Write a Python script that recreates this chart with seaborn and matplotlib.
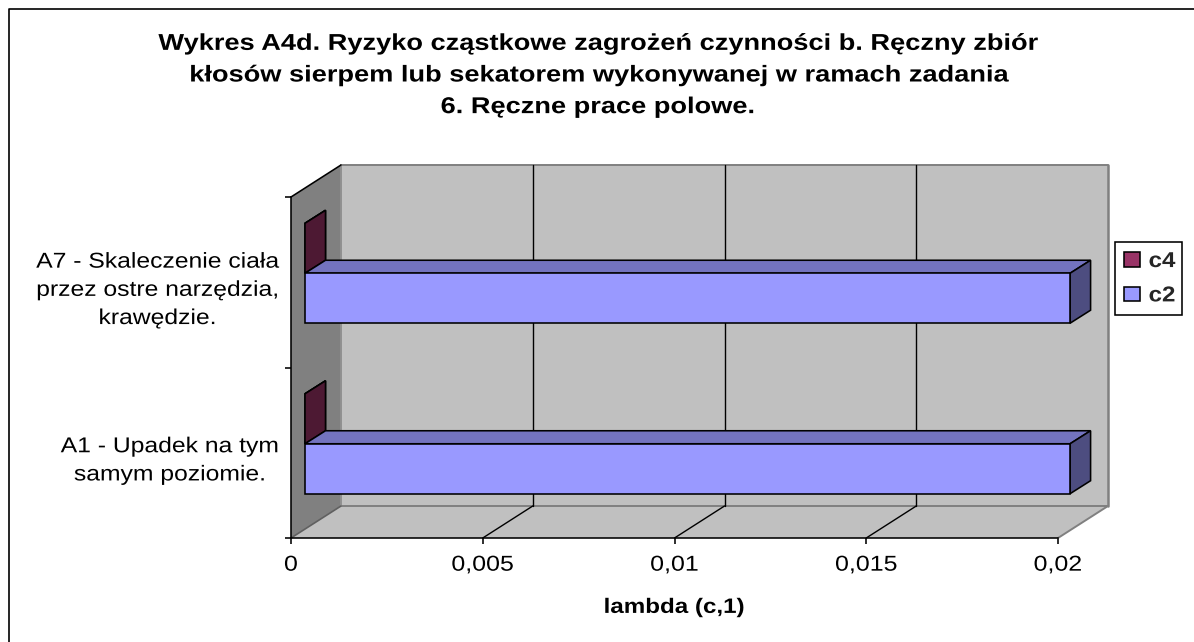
import matplotlib
matplotlib.use("Agg")
import matplotlib.pyplot as plt
import pandas as pd
import seaborn as sns
from matplotlib.patches import Polygon
from matplotlib.lines import Line2D
from matplotlib.patheffects import AbstractPathEffect
from matplotlib.transforms import Affine2D, IdentityTransform

# ---- data ----
categories = ["A7 - Skaleczenie ciała\nprzez ostre narzędzia,\nkrawędzie.",
              "A1 - Upadek na tym\nsamym poziomie."]
series_names = ["c4", "c2"]
c4_values = [0.0, 0.0]
c2_values = [0.01995, 0.01995]
x_ticks = [0, 0.005, 0.01, 0.015, 0.02]
x_tick_labels = ["0", "0,005", "0,01", "0,015", "0,02"]
title = ("Wykres A4d. Ryzyko cząstkowe zagrożeń czynności b. Ręczny zbiór\n"
         "kłosów sierpem lub sekatorem wykonywanej w ramach zadania\n"
         "6. Ręczne prace polowe.")
x_label = "lambda (c,1)"

# ---- style ----
W, H = 1194, 642
FRONT = {"c4": "#993366", "c2": "#9999ff"}
TOP = {"c4": "#73264d", "c2": "#7373bf"}
SIDE = {"c4": "#4d1933", "c2": "#4d4d80"}
WALL_DEPTH = (50, 32)
BAR_SHIFT = (14, 9)
BAR_DEPTH = (20.5, 13)
LW = 1.15


class StretchX(AbstractPathEffect):
    """Widen real text horizontally about a pivot, as the stretched original does."""

    def __init__(self, pivot, factor=1.2, dy=0):
        super().__init__()
        self.pivot, self.factor, self.dy = pivot, factor, dy

    def draw_path(self, renderer, gc, tpath, affine, rgbFace=None):
        t = affine + (Affine2D().translate(-self.pivot, 0)
                      .scale(self.factor, 1).translate(self.pivot, self.dy))
        renderer.draw_path(gc, tpath, t, rgbFace)


sns.set_theme(style="white")
plt.rcParams["font.family"] = ["Liberation Sans", "DejaVu Sans"]

df = pd.DataFrame({
    "cat": categories * 2,
    "series": ["c4"] * 2 + ["c2"] * 2,
    "value": c4_values + c2_values,
})

fig = plt.figure(figsize=(W / 100, H / 100), dpi=100, facecolor="white")
left, right, top, bottom = 291, 1058, 197, 538
ax = fig.add_axes([left / W, 1 - bottom / H, (right - left) / W, (bottom - top) / H])
sns.barplot(data=df, y="cat", x="value", hue="series", hue_order=series_names,
            order=categories, palette=FRONT, width=0.586, orient="h",
            edgecolor="black", linewidth=LW, saturation=1, ax=ax,
            errorbar=None)
ax.set_xlim(0, 0.02)
ax.set_ylim(1.5, -0.5)
ax.patch.set_visible(False)
ident = IdentityTransform()


def px(x, y, dx=0, dy=0):
    a, b = ax.transData.transform((x, y))
    return (a + dx, b + dy)


def poly(points, color, z, edge="none", lw=LW):
    ax.add_patch(Polygon(points, closed=True, facecolor=color, edgecolor=edge,
                         linewidth=lw, transform=ident, clip_on=False,
                         zorder=z, joinstyle="miter"))


def seg(p, q, color, lw, z):
    ax.add_line(Line2D([p[0], q[0]], [p[1], q[1]], color=color, lw=lw,
                       transform=ident, clip_on=False, zorder=z))


dx, dy = WALL_DEPTH
x0, x1 = ax.get_xlim()
yb, yt = ax.get_ylim()

# back wall, floor, side wall
poly([px(x0, yb, dx, dy), px(x1, yb, dx, dy), px(x1, yt, dx, dy), px(x0, yt, dx, dy)], "#c0c0c0", 0.5)
poly([px(x0, yb), px(x1, yb), px(x1, yb, dx, dy), px(x0, yb, dx, dy)], "#c0c0c0", 0.6)
poly([px(x0, yb), px(x0, yb, dx, dy), px(x0, yt, dx, dy), px(x0, yt)], "#808080", 0.7)

# wall outlines
seg(px(x0, yt, dx, dy), px(x1, yt, dx, dy), "#808080", 1.4, 0.8)
seg(px(x1, yt, dx, dy), px(x1, yb, dx, dy), "#808080", 1.8, 0.8)
seg(px(x0, yb, dx, dy), px(x1, yb, dx, dy), "#808080", 1.4, 0.8)
seg(px(x0, yt, dx, dy), px(x0, yb, dx, dy), "#909090", 1.4, 0.8)
seg(px(x1, yb), px(x1, yb, dx, dy), "#808080", 1.4, 0.8)
seg(px(x0, yb), px(x0, yb, dx, dy), "#606060", 1.2, 0.8)
seg(px(x0, yt), px(x0, yt, dx, dy), "black", LW, 0.9)

# gridlines on floor and back wall
for t in x_ticks[1:-1]:
    seg(px(t, yb), px(t, yb, dx, dy), "black", 1.0, 0.9)
    seg(px(t, yb, dx, dy), px(t, yt, dx, dy), "black", 1.0, 0.9)

# 3D bars built from the patches seaborn drew
sx, sy = BAR_SHIFT
bx, by = BAR_DEPTH
shift = ax.transData + Affine2D().translate(sx, sy)
groups = [(name, c) for c, name in zip(ax.containers, series_names)]
bars = []
for name, cont in groups:
    for rect in cont.patches:
        bars.append((rect.get_y() + rect.get_height() / 2, name, rect))
bars.sort(key=lambda b: b[0])
z = 3.0
for _, name, rect in bars:
    xa, xb = rect.get_x(), rect.get_x() + rect.get_width()
    ya, yc = rect.get_y(), rect.get_y() + rect.get_height()
    if name == "c4":
        poly([px(xa, ya, sx, sy), px(xa, ya, sx + bx, sy + by),
              px(xa, yc, sx + bx, sy + by), px(xa, yc, sx, sy)],
             SIDE[name], z, "black")
    poly([px(xa, ya, sx, sy), px(xb, ya, sx, sy),
          px(xb, ya, sx + bx, sy + by), px(xa, ya, sx + bx, sy + by)],
         TOP[name], z + 0.1, "black")
    poly([px(xb, ya, sx, sy), px(xb, ya, sx + bx, sy + by),
          px(xb, yc, sx + bx, sy + by), px(xb, yc, sx, sy)],
         SIDE[name], z + 0.1, "black")
    rect.set_transform(shift)
    rect.set_clip_on(False)
    rect.set_zorder(z + 0.2)
    rect.set_visible(name != "c4")
    z += 1

# axes
for s in ("top", "right"):
    ax.spines[s].set_visible(False)
for s in ("left", "bottom"):
    ax.spines[s].set_visible(True)
    ax.spines[s].set_color("black")
    ax.spines[s].set_linewidth(LW)
    ax.spines[s].set_zorder(2.5)

ax.set_xticks(x_ticks)
ax.set_xticklabels(x_tick_labels, fontsize=15.5, color="black")
ax.set_yticks([0, 1])
ax.set_yticklabels(categories, fontsize=15.5, color="black", ha="right",
                   multialignment="center", linespacing=1.45)
ax.set_yticks([-0.5, 0.5, 1.5], minor=True)
ax.tick_params(axis="x", length=4, width=LW, color="black", direction="out", pad=8, bottom=True)
ax.tick_params(axis="y", which="major", length=0, pad=9, left=False)
ax.tick_params(axis="y", which="minor", length=4, width=LW, color="black", direction="out", left=True)
ax.set_ylabel("")
ax.set_xlabel(x_label, fontsize=15, fontweight="bold", color="black", labelpad=16)

# legend
handles, labels = ax.get_legend_handles_labels()
leg = ax.legend(handles, labels, loc="upper left",
                bbox_to_anchor=(1115, H - 242), bbox_transform=ident,
                borderaxespad=0, fancybox=False, framealpha=1, edgecolor="black",
                facecolor="white", prop={"size": 15.5, "weight": "bold"},
                handlelength=0.74, handleheight=0.65, handletextpad=0.4,
                labelspacing=0.62, borderpad=0.42)
leg.get_frame().set_linewidth(LW)
leg.set_zorder(20)

# title and chart frame
title_text = fig.text(597.5 / W, 1 - 75 / H, title, ha="center", va="center", fontsize=16.5,
                      fontweight="bold", color="black", linespacing=1.48)
fig.add_artist(Line2D([8.5 / W, 8.5 / W, 1], [0, 1 - 8.5 / H, 1 - 8.5 / H],
                      color="black", lw=1.2, transform=fig.transFigure))

# stretch every text horizontally about its own anchor
fig.canvas.draw()
rend = fig.canvas.get_renderer()
for lab in ax.get_xticklabels():
    e = lab.get_window_extent(rend)
    lab.set_path_effects([StretchX((e.x0 + e.x1) / 2, 1.16)])
for lab in ax.get_yticklabels():
    e = lab.get_window_extent(rend)
    lab.set_path_effects([StretchX(e.x1, 1.147, dy=-2)])
e = ax.xaxis.label.get_window_extent(rend)
ax.xaxis.label.set_path_effects([StretchX((e.x0 + e.x1) / 2, 1.16)])
for lab in leg.get_texts():
    e = lab.get_window_extent(rend)
    lab.set_path_effects([StretchX(e.x0, 1.12)])
e = title_text.get_window_extent(rend)
title_text.set_path_effects([StretchX((e.x0 + e.x1) / 2, 1.187)])

fig.savefig("out.png", dpi=100, facecolor="white")
